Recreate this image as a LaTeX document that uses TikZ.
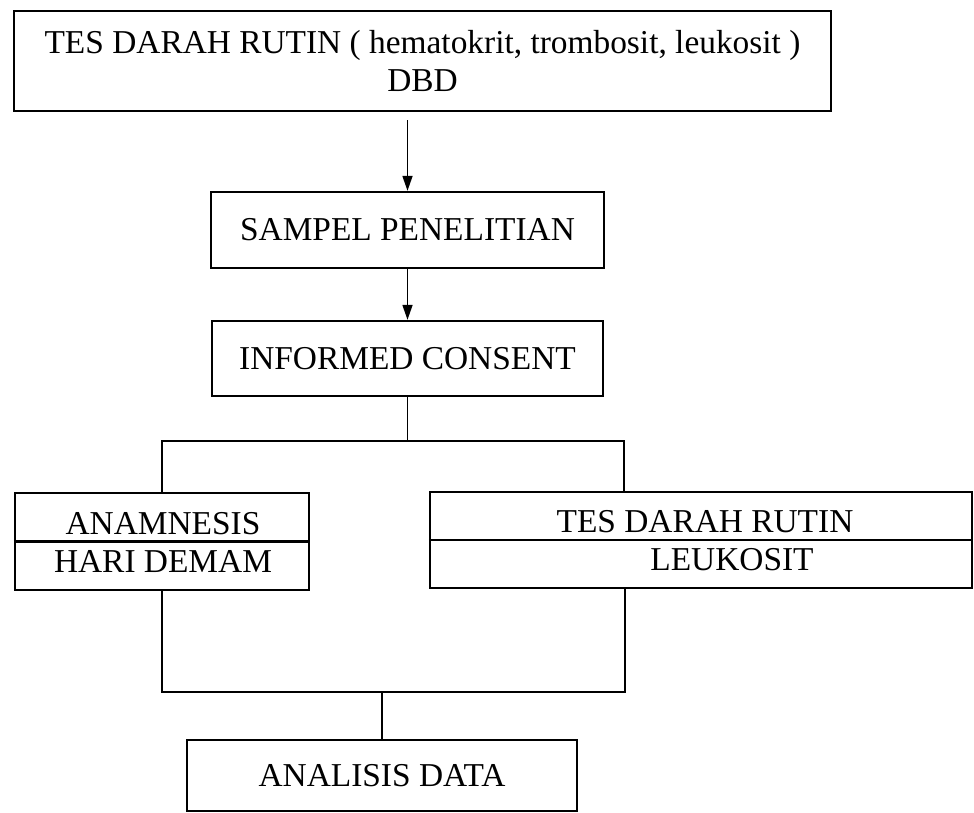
\documentclass[tikz,border=0pt]{standalone}
\usepackage{fontspec}
\setmainfont{Liberation Serif}
\usetikzlibrary{arrows.meta}

\begin{document}
\begin{tikzpicture}[
    box/.style={draw=black, line width=1.3pt, inner sep=0pt, align=center,
      font=\fontsize{19}{21.5}\selectfont},
    lbl/.style={inner sep=0pt, font=\fontsize{19}{21.5}\selectfont},
    link/.style={draw=black, line width=0.9pt},
    arr/.style={link, -{Triangle[length=0.3cm, width=0.2cm]}},
  ]
    \def\xmid{8.15}   % cm, kolom panah atas
    \useasboundingbox (0,0) rectangle (19.48,-16.26);
    \fill[white] (0,0) rectangle (19.48,-16.26);

    %% --- alur atas ---
    \node[box, minimum width=16.34cm, minimum height=2.0cm] (rutin) at (8.45,-1.22)
      {TES DARAH RUTIN ( hematokrit, trombosit, leukosit )\\DBD};
    \node[box, minimum width=7.86cm, minimum height=1.52cm] (sampel) at (\xmid,-4.6)
      {SAMPEL PENELITIAN};
    \node[box, minimum width=7.82cm, minimum height=1.5cm] (consent) at (\xmid,-7.17)
      {INFORMED CONSENT};

    \draw[arr, shorten <=0.16cm] (sampel.north |- rutin.south) -- (sampel.north);
    \draw[arr] (sampel.south) -- (consent.north);

    %% --- dua kotak bersekat ---
    \node[box, minimum width=5.88cm, minimum height=1.94cm] (anam) at (3.24,-10.83) {};
    \draw[line width=1.3pt] (anam.west) -- (anam.east);
    \node[lbl] (anamA) at (3.26,-10.48) {ANAMNESIS};
    \node[lbl] (anamB) at (3.26,-11.24) {HARI DEMAM};

    \node[box, minimum width=10.84cm, minimum height=1.92cm] (tes) at (14.02,-10.8) {};
    \draw[line width=1.3pt] (tes.west) -- (tes.east);
    \node[lbl] (tesA) at (14.1,-10.44) {TES DARAH RUTIN};
    \node[lbl] (tesB) at (14.64,-11.2) {LEUKOSIT};

    %% --- percabangan ---
    \coordinate (split) at (\xmid,-8.82);
    \coordinate (tesin) at (12.48,-9.84);
    \draw[link] (consent.south) -- (split);
    \draw[link] (anam.north) |- (split) -| (tesin);

    %% --- analisis ---
    \node[box, minimum width=7.8cm, minimum height=1.42cm] (analisis) at (7.64,-15.51)
      {ANALISIS DATA};

    \coordinate (join) at (7.64,-13.84);
    \coordinate (tesout) at (12.5,-11.76);
    \draw[link] (anam.south) |- (join) -| (tesout);
    \draw[link] (join) -- (analisis.north);

  \end{tikzpicture}
\end{document}
